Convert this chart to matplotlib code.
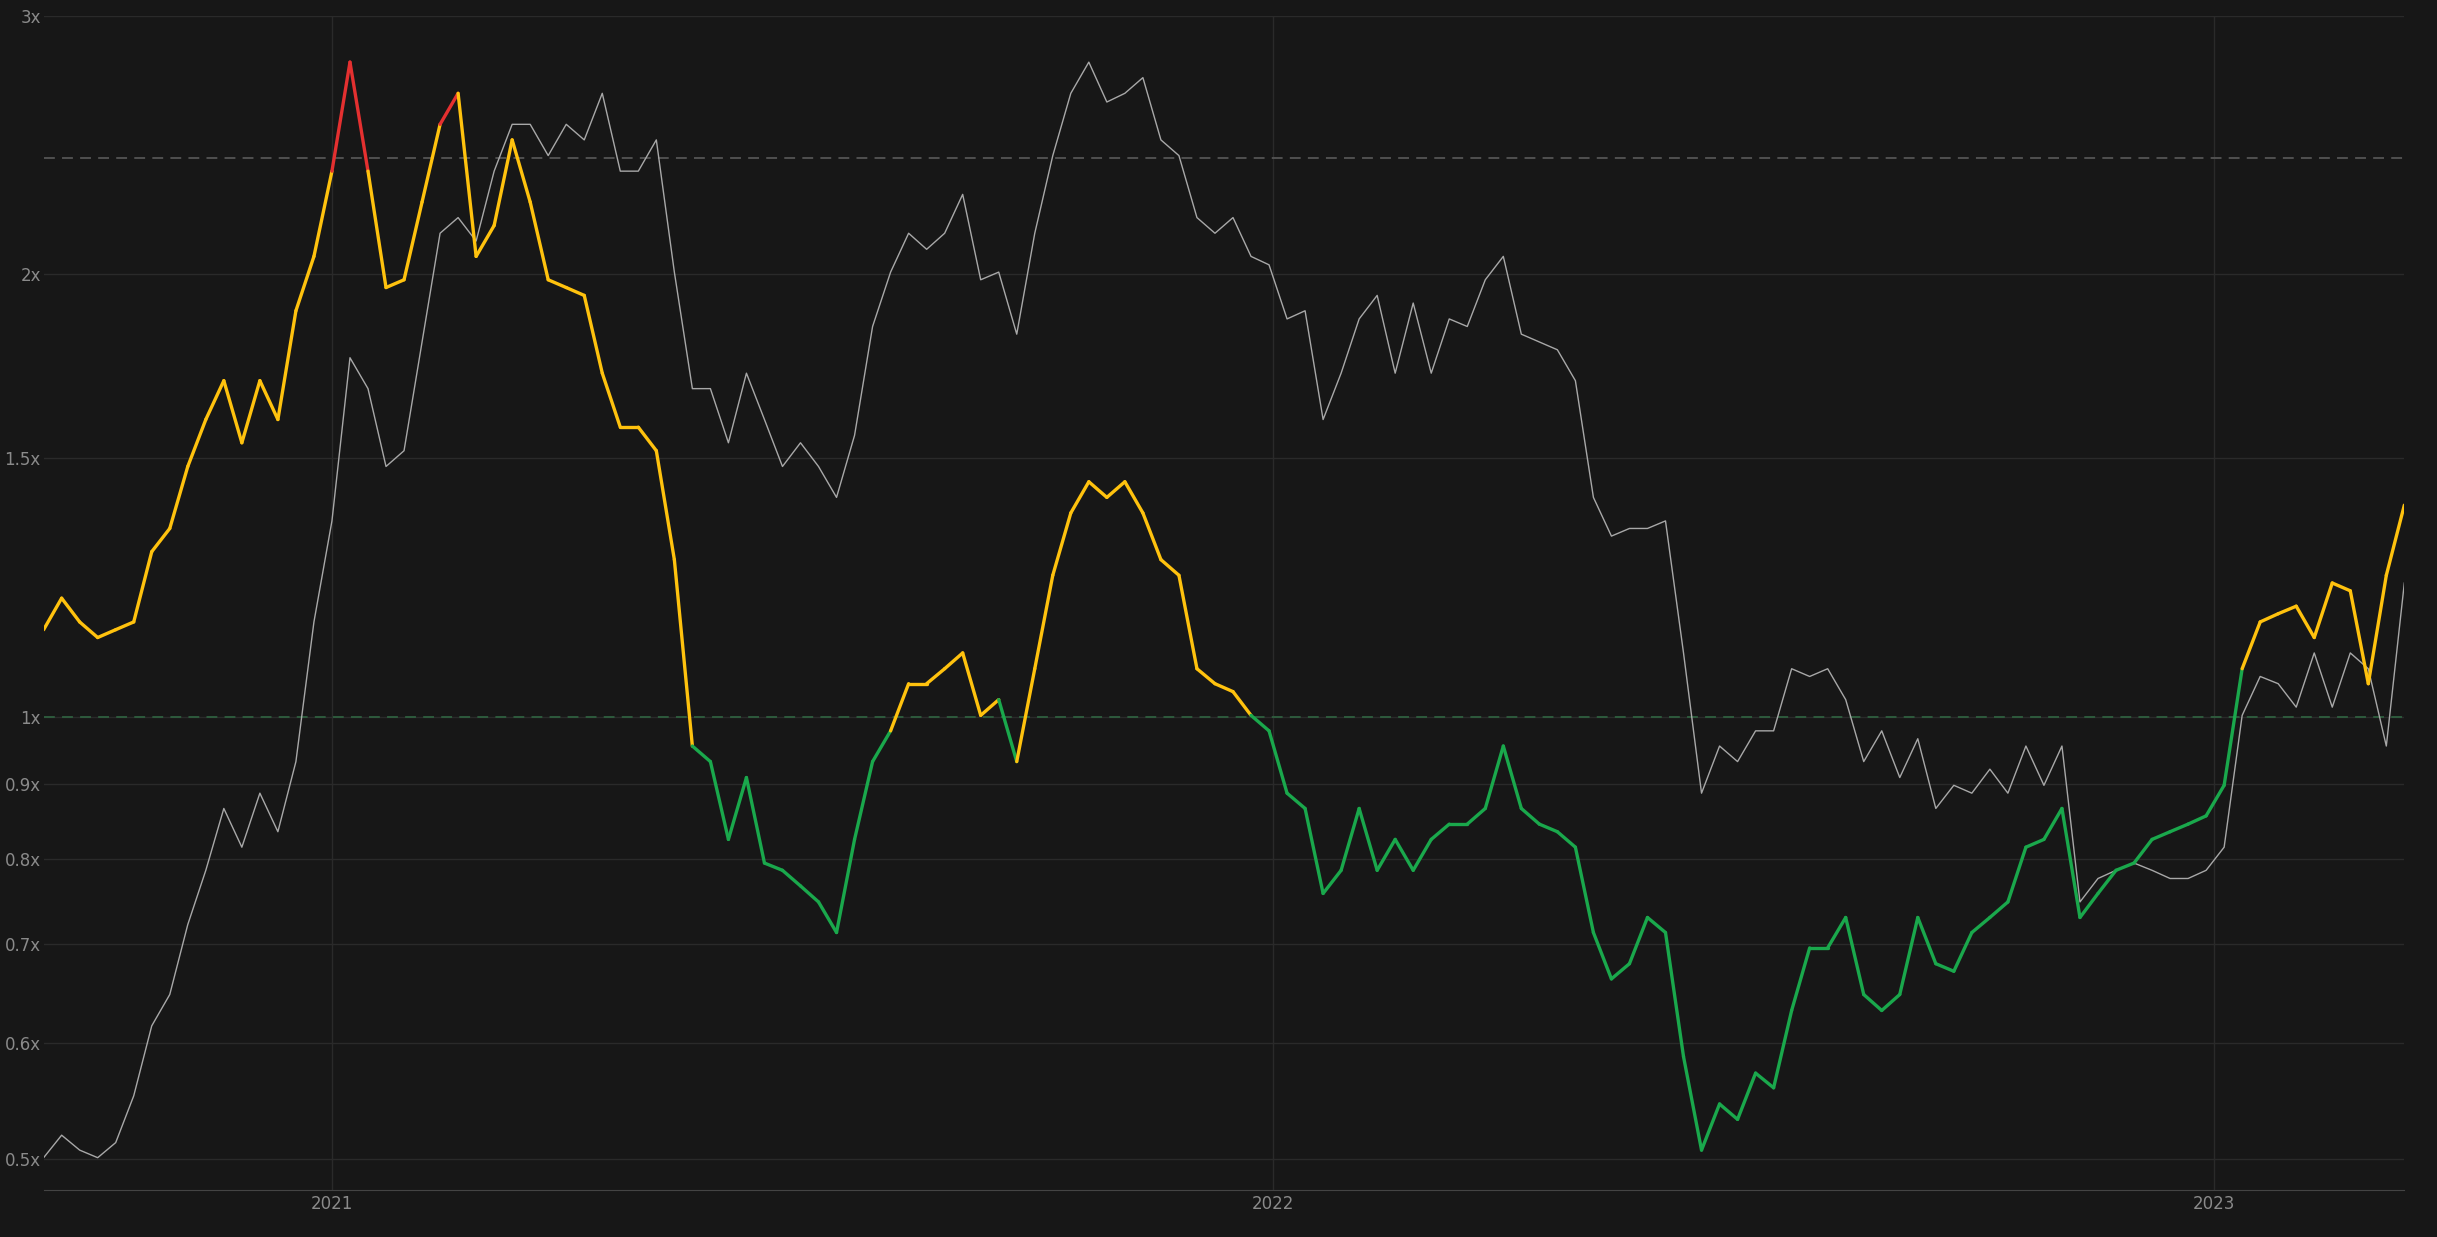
import matplotlib
matplotlib.use("Agg")
import matplotlib.pyplot as plt
import matplotlib.dates as mdates
from matplotlib.collections import LineCollection
from matplotlib.ticker import FixedLocator, FixedFormatter, NullLocator
import numpy as np
import pandas as pd

ratio = [1.146,1.204,1.160,1.132,1.146,1.160,1.295,1.343,1.480,1.593,1.693,1.536,1.693,1.593,1.889,2.057,2.351,2.789,2.351,1.959,1.983,2.240,2.530,2.656,2.057,2.159,2.469,2.240,1.983,1.959,1.935,1.713,1.574,1.574,1.517,1.279,0.955,0.932,0.825,0.909,0.795,0.786,0.767,0.748,0.713,0.825,0.932,0.978,1.053,1.053,1.078,1.105,1.002,1.027,0.932,1.078,1.248,1.376,1.445,1.410,1.445,1.376,1.279,1.248,1.078,1.053,1.040,1.002,0.978,0.887,0.866,0.758,0.786,0.866,0.786,0.825,0.786,0.825,0.845,0.845,0.866,0.955,0.866,0.845,0.835,0.815,0.713,0.663,0.679,0.730,0.713,0.587,0.507,0.545,0.532,0.572,0.559,0.631,0.696,0.696,0.730,0.647,0.631,0.647,0.730,0.679,0.671,0.713,0.730,0.748,0.815,0.825,0.866,0.730,0.758,0.786,0.795,0.825,0.835,0.845,0.856,0.898,1.078,1.160,1.175,1.189,1.132,1.233,1.218,1.053,1.248,1.393]

gray = [0.501,0.519,0.507,0.501,0.513,0.552,0.616,0.647,0.722,0.786,0.866,0.815,0.887,0.835,0.932,1.160,1.359,1.755,1.672,1.480,1.517,1.799,2.133,2.186,2.107,2.351,2.530,2.530,2.409,2.530,2.469,2.656,2.351,2.351,2.469,2.007,1.672,1.672,1.536,1.713,1.593,1.480,1.536,1.480,1.410,1.554,1.843,2.007,2.133,2.08,2.133,2.267,1.983,2.007,1.821,2.133,2.409,2.656,2.789,2.62,2.656,2.722,2.469,2.409,2.186,2.133,2.186,2.057,2.03,1.865,1.889,1.593,1.713,1.865,1.935,1.713,1.912,1.713,1.865,1.843,1.983,2.057,1.821,1.799,1.777,1.693,1.410,1.327,1.343,1.343,1.359,1.105,0.887,0.955,0.932,0.978,0.978,1.078,1.065,1.078,1.027,0.932,0.978,0.909,0.966,0.866,0.898,0.887,0.921,0.887,0.955,0.898,0.955,0.748,0.776,0.786,0.795,0.786,0.776,0.776,0.786,0.815,1.002,1.065,1.053,1.015,1.105,1.015,1.105,1.078,0.955,1.233]

ytick_vals = [0.5,0.6,0.7,0.8,0.9,1,1.5,2,3]
ytick_labels = ["0.5x","0.6x","0.7x","0.8x","0.9x","1x","1.5x","2x","3x"]
upper_band = 2.4

start, end = "2020-09-11", "2023-03-16"
dates = pd.date_range(start, end, periods=len(ratio))
dates_g = pd.date_range(start, end, periods=len(gray))

BG = "#171717"
fig = plt.figure(figsize=(24.37, 12.37), dpi=100, facecolor=BG)
ax = fig.add_axes([0.0179, 0.0377, 0.9687, 0.9497])
ax.set_facecolor(BG)
ax.set_yscale("log")
ax.set_ylim(0.476, 3.0)
ax.set_xlim(pd.Timestamp(start), pd.Timestamp(end))

ax.yaxis.set_major_locator(FixedLocator(ytick_vals))
ax.yaxis.set_major_formatter(FixedFormatter(ytick_labels))
ax.yaxis.set_minor_locator(NullLocator())
ax.xaxis.set_major_locator(mdates.YearLocator())
ax.xaxis.set_major_formatter(mdates.DateFormatter("%Y"))
ax.grid(True, color="#2a2a2a", lw=1)
for s in ax.spines.values():
    s.set_visible(False)
ax.spines["bottom"].set_visible(True)
ax.spines["bottom"].set_color("#444444")
ax.tick_params(axis="both", colors="#8a8a8a", labelsize=12, length=0)
ax.tick_params(axis="y", pad=2)

ax.axhline(1.0, color="#2f5f3f", lw=1.3, ls=(0, (6, 4)))
ax.axhline(upper_band, color="#555555", lw=1.3, ls=(0, (6, 4)))

ax.plot(dates_g, gray, color="#a8a8a8", lw=1.0)

x = mdates.date2num(dates)
y = np.array(ratio)
pts = np.column_stack([x, y]).reshape(-1, 1, 2)
segs = np.concatenate([pts[:-1], pts[1:]], axis=1)
cols = []
for a, b in zip(y[:-1], y[1:]):
    m = (a + b) / 2
    cols.append("#e53030" if m > upper_band else ("#1aa84c" if m < 1 else "#ffc20e"))
lc = LineCollection(segs, colors=cols, linewidths=2.4, capstyle="round", joinstyle="round")
ax.add_collection(lc)

fig.savefig("out.png", dpi=100, facecolor=BG)
